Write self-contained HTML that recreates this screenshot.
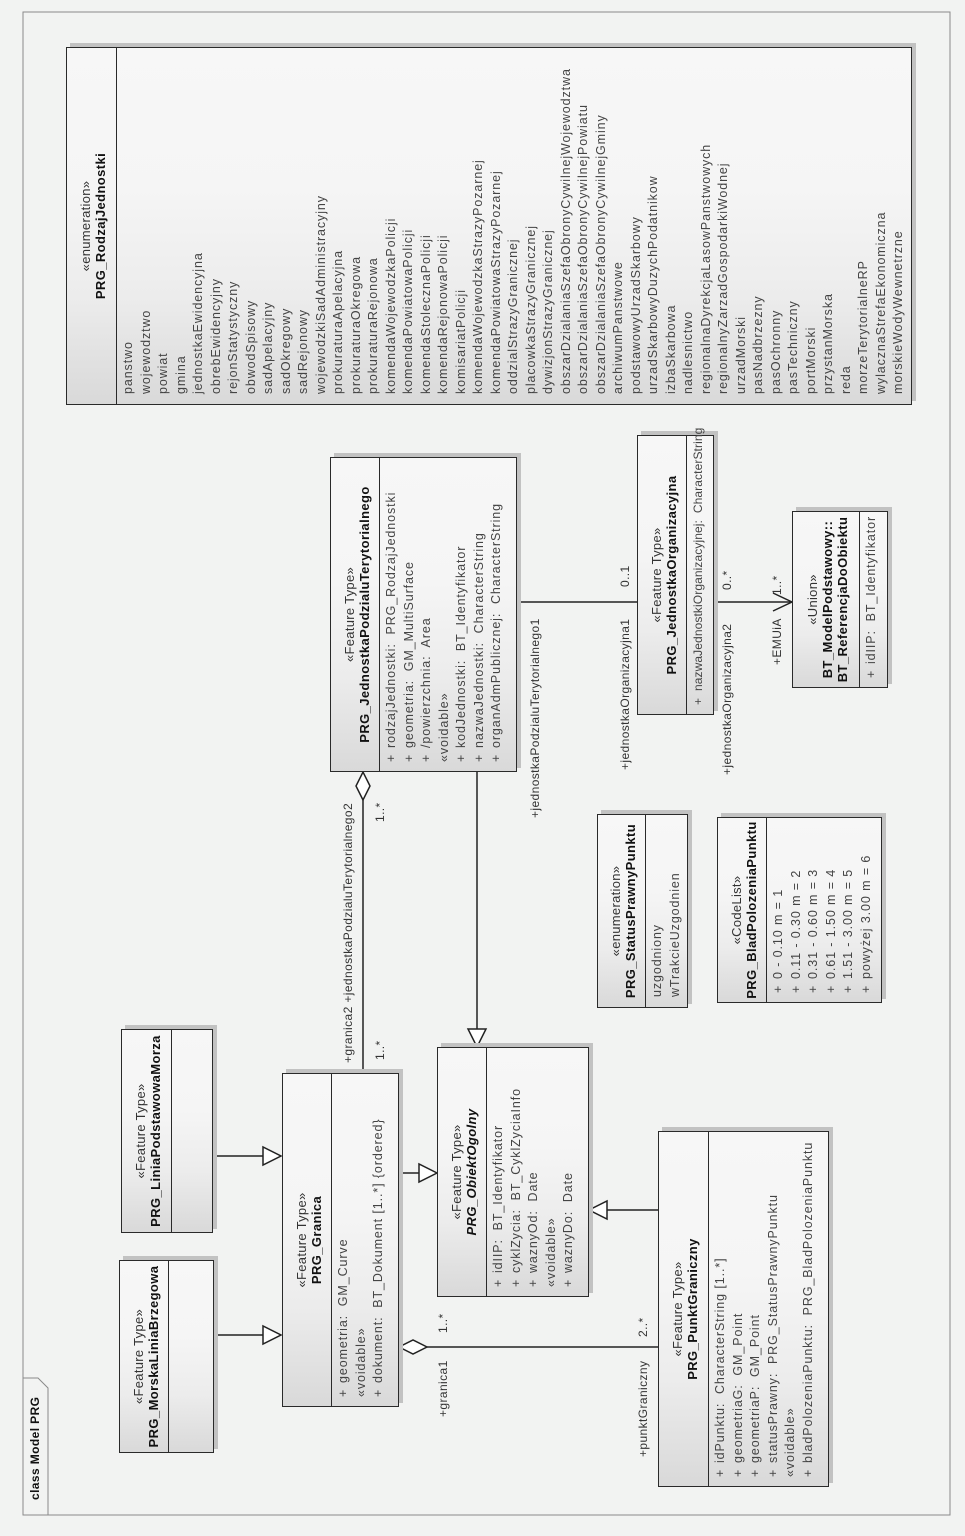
<!DOCTYPE html>
<html><head><meta charset="utf-8">
<style>
html,body{margin:0;padding:0;background:#f2f3f2;width:965px;height:1536px;overflow:hidden;}
#c{position:absolute;left:0;top:0;width:1536px;height:965px;transform-origin:0 0;transform:translate(0,1536px) rotate(-90deg);font-family:"Liberation Sans",Arial,sans-serif;}
.b{position:absolute;box-sizing:border-box;border:1.5px solid #2a2a2a;background:linear-gradient(to right,#d9d9d9 0%,#ececec 30%,#f5f5f5 60%,#f7f7f7 100%);box-shadow:4px 4px 0 #c2c2c2;}
.h{box-sizing:border-box;border-bottom:1.5px solid #2a2a2a;text-align:center;display:flex;flex-direction:column;justify-content:center;padding-top:3px;}
.st{font-size:13px;color:#333;letter-spacing:0.3px;line-height:15px;}
.nm{font-size:13px;font-weight:bold;color:#111;letter-spacing:0.4px;line-height:15px;}
.a{padding-top:3px;}
.r{position:relative;font-size:12.5px;color:#444;letter-spacing:0.9px;line-height:17.5px;height:17.5px;white-space:pre;padding-left:23px;}
.r .p{position:absolute;left:9px;top:0;}
.e .r{padding-left:10px;letter-spacing:0.9px;}
.lb{position:absolute;font-size:12px;color:#333;letter-spacing:0.4px;line-height:14px;white-space:pre;}
svg{position:absolute;left:0;top:0;}
</style></head><body>
<div id="c">
<svg width="1536" height="965">
<rect x="21" y="23" width="1503" height="927" fill="none" stroke="#8a8a8a" stroke-width="1"/>
<polygon points="21,23 158,23 158,38 148,48 21,48" fill="#f2f3f2" stroke="#8a8a8a" stroke-width="1"/>
<g stroke="#222" stroke-width="1.5" fill="none">
<line x1="380" y1="213" x2="380" y2="263"/><polygon points="371,263 389,263 380,281" fill="#fff"/>
<line x1="201" y1="214" x2="201" y2="263"/><polygon points="192,263 210,263 201,281" fill="#fff"/>
<line x1="363" y1="399" x2="363" y2="419"/><polygon points="354,419 372,419 363,437" fill="#fff"/>
<line x1="326" y1="658" x2="326" y2="607"/><polygon points="317,607 335,607 326,589" fill="#fff"/>
<line x1="764" y1="477" x2="507" y2="477"/><polygon points="507,468 507,486 489,477" fill="#fff"/>
<line x1="463" y1="363" x2="736" y2="363"/><polygon points="736,363 750,356 764,363 750,370" fill="#fff"/>
<line x1="189" y1="427" x2="189" y2="658"/><polygon points="189,399 182,413 189,427 196,413" fill="#fff"/>
<line x1="934" y1="517" x2="934" y2="637"/>
<line x1="934" y1="714" x2="934" y2="792"/><polyline points="925,773 934,792 943,773"/>
</g>
</svg>
<div class="lb" style="left:36px;top:28px;font-weight:bold;color:#111;">class Model PRG</div>

<div class="b e" style="left:1131px;top:66px;width:358px;height:846px;">
<div class="h" style="height:50px"><div class="st">«enumeration»</div><div class="nm">PRG_RodzajJednostki</div></div>
<div class="a">
<div class="r">panstwo</div><div class="r">wojewodztwo</div><div class="r">powiat</div><div class="r">gmina</div><div class="r">jednostkaEwidencyjna</div><div class="r">obrebEwidencyjny</div><div class="r">rejonStatystyczny</div><div class="r">obwodSpisowy</div><div class="r">sadApelacyjny</div><div class="r">sadOkregowy</div><div class="r">sadRejonowy</div><div class="r">wojewodzkiSadAdministracyjny</div><div class="r">prokuraturaApelacyjna</div><div class="r">prokuraturaOkregowa</div><div class="r">prokuraturaRejonowa</div><div class="r">komendaWojewodzkaPolicji</div><div class="r">komendaPowiatowaPolicji</div><div class="r">komendaStolecznaPolicji</div><div class="r">komendaRejonowaPolicji</div><div class="r">komisariatPolicji</div><div class="r">komendaWojewodzkaStrazyPozarnej</div><div class="r">komendaPowiatowaStrazyPozarnej</div><div class="r">oddzialStrazyGranicznej</div><div class="r">placowkaStrazyGranicznej</div><div class="r">dywizjonStrazyGranicznej</div><div class="r">obszarDzialaniaSzefaObronyCywilnejWojewodztwa</div><div class="r">obszarDzialaniaSzefaObronyCywilnejPowiatu</div><div class="r">obszarDzialaniaSzefaObronyCywilnejGminy</div><div class="r">archiwumPanstwowe</div><div class="r">podstawowyUrzadSkarbowy</div><div class="r">urzadSkarbowyDuzychPodatnikow</div><div class="r">izbaSkarbowa</div><div class="r">nadlesnictwo</div><div class="r">regionalnaDyrekcjaLasowPanstwowych</div><div class="r">regionalnyZarzadGospodarkiWodnej</div><div class="r">urzadMorski</div><div class="r">pasNadbrzezny</div><div class="r">pasOchronny</div><div class="r">pasTechniczny</div><div class="r">portMorski</div><div class="r">przystanMorska</div><div class="r">reda</div><div class="r">morzeTerytorialneRP</div><div class="r">wylacznaStrefaEkonomiczna</div><div class="r">morskieWodyWewnetrzne</div>
</div></div>

<div class="b" style="left:764px;top:330px;width:315px;height:187px;">
<div class="h" style="height:49px"><div class="st">«Feature Type»</div><div class="nm">PRG_JednostkaPodzialuTerytorialnego</div></div>
<div class="a">
<div class="r"><span class="p">+</span>rodzajJednostki:  PRG_RodzajJednostki</div>
<div class="r"><span class="p">+</span>geometria:  GM_MultiSurface</div>
<div class="r"><span class="p">+</span>/powierzchnia:  Area</div>
<div class="r" style="padding-left:9px">«voidable»</div>
<div class="r"><span class="p">+</span>kodJednostki:  BT_Identyfikator</div>
<div class="r"><span class="p">+</span>nazwaJednostki:  CharacterString</div>
<div class="r"><span class="p">+</span>organAdmPublicznej:  CharacterString</div>
</div></div>

<div class="b" style="left:821px;top:637px;width:280px;height:77px;">
<div class="h" style="height:49px"><div class="st">«Feature Type»</div><div class="nm">PRG_JednostkaOrganizacyjna</div></div>
<div class="a"><div class="r" style="letter-spacing:0.1px;font-size:12px"><span class="p">+</span>nazwaJednostkiOrganizacyjnej:  CharacterString</div></div></div>

<div class="b" style="left:848px;top:792px;width:177px;height:96px;">
<div class="h" style="height:67px"><div class="st">«Union»</div><div class="nm">BT_ModelPodstawowy::</div><div class="nm">BT_ReferencjaDoObiektu</div></div>
<div class="a"><div class="r"><span class="p">+</span>idIIP:  BT_Identyfikator</div></div></div>

<div class="b e" style="left:528px;top:597px;width:194px;height:91px;">
<div class="h" style="height:48px"><div class="st">«enumeration»</div><div class="nm">PRG_StatusPrawnyPunktu</div></div>
<div class="a"><div class="r">uzgodniony</div><div class="r">wTrakcieUzgodnien</div></div></div>

<div class="b" style="left:533px;top:717px;width:186px;height:165px;">
<div class="h" style="height:49px"><div class="st">«CodeList»</div><div class="nm">PRG_BladPolozeniaPunktu</div></div>
<div class="a">
<div class="r"><span class="p">+</span>0 - 0.10 m = 1</div>
<div class="r"><span class="p">+</span>0.11 - 0.30 m = 2</div>
<div class="r"><span class="p">+</span>0.31 - 0.60 m = 3</div>
<div class="r"><span class="p">+</span>0.61 - 1.50 m = 4</div>
<div class="r"><span class="p">+</span>1.51 - 3.00 m = 5</div>
<div class="r"><span class="p">+</span>powyżej 3.00 m = 6</div>
</div></div>

<div class="b" style="left:303px;top:121px;width:204px;height:92px;">
<div class="h" style="height:50px"><div class="st">«Feature Type»</div><div class="nm">PRG_LiniaPodstawowaMorza</div></div></div>

<div class="b" style="left:83px;top:119px;width:193px;height:95px;">
<div class="h" style="height:49px"><div class="st">«Feature Type»</div><div class="nm">PRG_MorskaLiniaBrzegowa</div></div></div>

<div class="b" style="left:129px;top:282px;width:334px;height:117px;">
<div class="h" style="height:49px"><div class="st">«Feature Type»</div><div class="nm">PRG_Granica</div></div>
<div class="a">
<div class="r"><span class="p">+</span>geometria:  GM_Curve</div>
<div class="r" style="padding-left:9px">«voidable»</div>
<div class="r"><span class="p">+</span>dokument:  BT_Dokument [1..*] {ordered}</div>
</div></div>

<div class="b" style="left:239px;top:437px;width:250px;height:152px;">
<div class="h" style="height:49px"><div class="st">«Feature Type»</div><div class="nm" style="font-style:italic">PRG_ObiektOgolny</div></div>
<div class="a">
<div class="r"><span class="p">+</span>idIIP:  BT_Identyfikator</div>
<div class="r"><span class="p">+</span>cyklZycia:  BT_CyklZyciaInfo</div>
<div class="r"><span class="p">+</span>waznyOd:  Date</div>
<div class="r" style="padding-left:9px">«voidable»</div>
<div class="r"><span class="p">+</span>waznyDo:  Date</div>
</div></div>

<div class="b" style="left:49px;top:658px;width:356px;height:171px;">
<div class="h" style="height:50px"><div class="st">«Feature Type»</div><div class="nm">PRG_PunktGraniczny</div></div>
<div class="a">
<div class="r"><span class="p">+</span>idPunktu:  CharacterString [1..*]</div>
<div class="r"><span class="p">+</span>geometriaG:  GM_Point</div>
<div class="r"><span class="p">+</span>geometriaP:  GM_Point</div>
<div class="r"><span class="p">+</span>statusPrawny:  PRG_StatusPrawnyPunktu</div>
<div class="r" style="padding-left:9px">«voidable»</div>
<div class="r"><span class="p">+</span>bladPolozeniaPunktu:  PRG_BladPolozeniaPunktu</div>
</div></div>

<div class="lb" style="left:473px;top:341px;">+granica2 +jednostkaPodzialuTerytorialnego2</div>
<div class="lb" style="left:476px;top:373px;">1..*</div>
<div class="lb" style="left:714px;top:373px;">1..*</div>
<div class="lb" style="left:718px;top:528px;">+jednostkaPodzialuTerytorialnego1</div>
<div class="lb" style="left:766px;top:618px;">+jednostkaOrganizacyjna1</div>
<div class="lb" style="left:949px;top:618px;">0..1</div>
<div class="lb" style="left:761px;top:720px;">+jednostkaOrganizacyjna2</div>
<div class="lb" style="left:946px;top:720px;">0..*</div>
<div class="lb" style="left:871px;top:770px;">+EMUiA</div>
<div class="lb" style="left:941px;top:770px;">1..*</div>
<div class="lb" style="left:119px;top:436px;">+granica1</div>
<div class="lb" style="left:203px;top:436px;">1..*</div>
<div class="lb" style="left:79px;top:636px;">+punktGraniczny</div>
<div class="lb" style="left:199px;top:636px;">2..*</div>
</div>
</body></html>
